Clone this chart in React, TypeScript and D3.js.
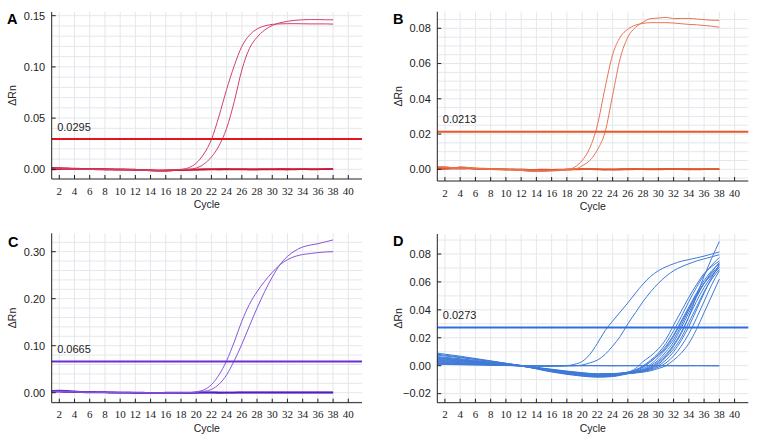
import React from 'react'
import * as d3 from 'd3'

// cycle numbers
const cycles = [1, 2, 3, 4, 5, 6, 7, 8, 9, 10, 11, 12, 13, 14, 15, 16, 17, 18, 19, 20,
  21, 22, 23, 24, 25, 26, 27, 28, 29, 30, 31, 32, 33, 34, 35, 36, 37, 38]
// sparser cycles used for the late curves of panel D
const dCycles = [1, 4, 8, 12, 16, 20, 22, 24, 26, 27, 28, 29, 30, 31, 32, 33, 34, 35, 36, 37, 38]
const xTicks = [2, 4, 6, 8, 10, 12, 14, 16, 18, 20, 22, 24, 26, 28, 30, 32, 34, 36, 38, 40]

// ---- panel A ----
const aTicks = [0, 0.05, 0.1, 0.15]
const aThreshold = 0.0295
const aCurve1 = [0.001, 0.0008, 0.0006, 0.0005, 0.0003, 0.0002, 0.0001, 0, 0, -0.0002, -0.0003, -0.0005, -0.0008, -0.001, -0.001, -0.0008, -0.0005, 0,
  0.0015, 0.006, 0.015, 0.029, 0.052, 0.078, 0.101, 0.12, 0.131, 0.137, 0.14, 0.1415, 0.142, 0.1422, 0.1422, 0.1421, 0.142, 0.142, 0.142, 0.1418]
const aCurve2 = [0.0005, 0.0006, 0.0004, 0.0002, 0, -0.0001, -0.0002, -0.0003, -0.0004, -0.0005, -0.0006, -0.0007, -0.0009, -0.0012, -0.0012, -0.001, -0.0007, -0.0003, 0,
  0.0012, 0.005, 0.012, 0.023, 0.04, 0.066, 0.097, 0.118, 0.129, 0.136, 0.1405, 0.143, 0.1445, 0.1455, 0.146, 0.1462, 0.1462, 0.146, 0.146]
const aNeg1 = [0.0015, 0.0012, 0.001, 0.0008, 0.0006, 0.0004, 0.0003, 0.0002, 0.0001, 0, -0.0001, -0.0003, -0.0006, -0.0012, -0.0015, -0.0013, -0.001, -0.0007, -0.0004,
  -0.0002, 0, 0.0001, 0.0002, 0.0002, 0.0001, 0, -0.0001, -0.0001, 0, 0.0001, 0.0002, 0.0002, 0.0001, 0, 0, 0.0001, 0.0002, 0.0002]
const aNeg2 = [0.0005, 0.0007, 0.0008, 0.0006, 0.0003, 0.0001, 0, -0.0001, -0.0003, -0.0004, -0.0005, -0.0006, -0.0008, -0.0009, -0.0011, -0.0012, -0.001, -0.0008, -0.0006,
  -0.0005, -0.0004, -0.0003, -0.0002, -0.0002, -0.0003, -0.0003, -0.0002, -0.0001, -0.0001, -0.0002, -0.0002, -0.0001, 0, 0, -0.0001, -0.0001, 0, 0]
const aNeg3 = [-0.0002, 0, 0.0002, 0.0003, 0.0002, 0, -0.0002, -0.0003, -0.0002, -0.0001, -0.0002, -0.0004, -0.0007, -0.001, -0.0012, -0.0011, -0.0009, -0.0006, -0.0003,
  -0.0001, 0, 0, -0.0001, 0, 0.0001, 0.0001, 0, 0, 0.0001, 0.0001, 0, -0.0001, -0.0001, 0, 0.0001, 0.0001, 0, 0]

// ---- panel B ----
const bTicks = [0, 0.02, 0.04, 0.06, 0.08]
const bThreshold = 0.0213
const bCurve1 = [0.0015, 0.0014, 0.0008, 0.0012, 0.001, 0.0006, 0.0004, 0.0002, 0.0001, 0, -0.0002, -0.0001, -0.0005, -0.0008, -0.0008, -0.0007, -0.0004, -0.0001,
  0.0012, 0.005, 0.012, 0.025, 0.046, 0.065, 0.075, 0.0795, 0.0818, 0.0828, 0.0832, 0.0832, 0.0832, 0.083, 0.0826, 0.0822, 0.082, 0.0816, 0.0812, 0.0806]
const bCurve2 = [0.0008, 0.001, 0.0006, 0.0004, 0.0007, 0.0004, 0.0002, 0.0001, 0, -0.0001, -0.0003, -0.0006, -0.0012, -0.0013, -0.0012, -0.001, -0.0007, -0.0004, 0,
  0.002, 0.005, 0.011, 0.021, 0.042, 0.063, 0.075, 0.0805, 0.0835, 0.0855, 0.0858, 0.0862, 0.0855, 0.0856, 0.0856, 0.0853, 0.0849, 0.0846, 0.0845]
const bNeg1 = [0.001, 0.0012, 0.0008, 0.0011, 0.0009, 0.0006, 0.0004, 0.0003, 0.0002, 0.0001, 0, -0.0002, -0.0003, -0.0002, -0.0001, -0.0002, -0.0001, 0, 0.0001,
  0.0001, 0, -0.0001, -0.0002, -0.0001, 0, 0.0001, 0.0001, 0, 0, 0.0001, 0.0002, 0.0002, 0.0001, 0.0001, 0, 0, 0, 0]
const bNeg2 = [0.0004, 0.0003, 0.0005, 0.0008, 0.0006, 0.0003, 0.0001, 0, -0.0001, -0.0002, -0.0003, -0.0004, -0.0006, -0.0007, -0.0006, -0.0005, -0.0004, -0.0002, -0.0001,
  0, 0, 0, -0.0001, -0.0002, -0.0002, -0.0001, 0, 0, -0.0001, -0.0001, 0, 0, 0, -0.0001, -0.0001, 0, 0, 0]
const bNeg3 = [0, 0.0002, 0.0004, 0.0003, 0.0004, 0.0002, 0.0001, 0, 0, -0.0001, -0.0001, 0, -0.0002, -0.0004, -0.0005, -0.0004, -0.0003, -0.0001, 0,
  0.0002, 0.0002, 0.0001, 0, 0, 0.0001, 0.0002, 0.0002, 0.0001, 0.0001, 0.0002, 0.0003, 0.0003, 0.0002, 0.0001, 0.0001, 0.0001, 0.0001, 0.0001]

// ---- panel C ----
const cTicks = [0, 0.1, 0.2, 0.3]
const cThreshold = 0.0665
const cCurve1 = [0.003, 0.0035, 0.003, 0.002, 0.0015, 0.001, 0.001, 0.0008, 0.0005, 0.0003, 0.0002, 0.0002, 0, -0.0005, -0.0005, -0.0003, -0.0002, -0.0005, 0, 0.002,
  0.006, 0.017, 0.038, 0.068, 0.108, 0.152, 0.188, 0.215, 0.237, 0.256, 0.272, 0.283, 0.29, 0.294, 0.296, 0.298, 0.2995, 0.3]
const cCurve2 = [0.002, 0.0025, 0.002, 0.0015, 0.001, 0.001, 0.0005, 0.0005, 0.0003, 0.0002, 0, 0, -0.0003, -0.0005, -0.0005, -0.0004, -0.0003, -0.0002, 0, 0.001, 0.003,
  0.007, 0.018, 0.038, 0.068, 0.103, 0.142, 0.18, 0.215, 0.246, 0.272, 0.29, 0.302, 0.31, 0.314, 0.317, 0.321, 0.325]
const cNeg1 = [0.004, 0.0045, 0.004, 0.003, 0.002, 0.0015, 0.001, 0.0008, 0.0005, 0.0003, 0.0002, 0, -0.0005, -0.001, -0.0008, -0.0005, -0.0003, -0.0008, -0.0005,
  0, 0.0005, 0.0005, 0.0003, 0.0002, 0.0003, 0.0005, 0.0005, 0.0004, 0.0003, 0.0004, 0.0005, 0.0006, 0.0005, 0.0004, 0.0004, 0.0005, 0.0005, 0.0005]
const cNeg2 = [0.002, 0.002, 0.0015, 0.001, 0.0008, 0.0005, 0.0003, 0.0002, 0, -0.0002, -0.0003, -0.0005, -0.0008, -0.0012, -0.001, -0.0008, -0.0006, -0.0005, -0.0003,
  -0.0002, -0.0002, -0.0003, -0.0004, -0.0003, -0.0002, -0.0001, 0, 0, -0.0001, -0.0002, -0.0001, 0, 0, 0.0001, 0.0001, 0, 0, 0]
const cNeg3 = [0.003, 0.003, 0.0025, 0.002, 0.0018, 0.0015, 0.0012, 0.001, 0.0008, 0.0006, 0.0004, 0.0003, 0.0002, 0, 0, 0.0002, 0.0003, 0.0002, 0.0003,
  0.0005, 0.0008, 0.0008, 0.0006, 0.0005, 0.0006, 0.0008, 0.0008, 0.0007, 0.0008, 0.0009, 0.001, 0.001, 0.0009, 0.0008, 0.0008, 0.0009, 0.001, 0.001]

// ---- panel D ----
const dTicks = [-0.02, 0, 0.02, 0.04, 0.06, 0.08]
const dThreshold = 0.0273
const dEarly1 = [0.0015, 0.0014, 0.0013, 0.0012, 0.0011, 0.001, 0.0009, 0.0008, 0.0006, 0.0004, 0.0002, 0, -0.0002, -0.0003, -0.0004, -0.0004, -0.0003, 0,
  0.001, 0.003, 0.008, 0.016, 0.025, 0.032, 0.0385, 0.045, 0.052, 0.0585, 0.064, 0.068, 0.0708, 0.073, 0.0748, 0.076, 0.0772, 0.0785, 0.08, 0.0815]
const dEarly2 = [0.001, 0.0009, 0.0008, 0.0007, 0.0006, 0.0005, 0.0004, 0.0003, 0.0002, 0.0001, 0, 0, -0.0001, -0.0002, -0.0003, -0.0003, -0.0002, -0.0001, 0,
  0.0005, 0.002, 0.004, 0.008, 0.014, 0.021, 0.03, 0.038, 0.046, 0.053, 0.059, 0.064, 0.068, 0.0708, 0.073, 0.075, 0.0765, 0.078, 0.0795]
const dFlat1 = [0.0012, 0.0011, 0.001, 0.0009, 0.0008, 0.0007, 0.0006, 0.0004, 0.0003, 0.0002, 0.0001, 0, 0, -0.0001, -0.0001, 0, 0, 0, 0,
  0, 0.0001, 0, 0, -0.0001, 0, 0, 0, 0.0001, 0, 0, 0, 0, -0.0001, 0, 0, 0, -0.0001, -0.0001]
const dFlat2 = [0.002, 0.0018, 0.0016, 0.0014, 0.0012, 0.001, 0.0008, 0.0006, 0.0004, 0.0003, 0.0001, 0, -0.0001, -0.0001, -0.0002, -0.0001, 0, 0, 0,
  0, 0, 0, 0, 0, 0, 0, 0, 0, 0, 0, 0, 0, 0, 0, 0, 0, 0, 0]
const dLate = [
  [0.009, 0.0068, 0.0035, 0, -0.003, -0.0055, -0.006, -0.0058, -0.0045, -0.002, 0.003, 0.007, 0.012, 0.019, 0.029, 0.039, 0.049, 0.058, 0.066, 0.071, 0.075],
  [0.0075, 0.0058, 0.003, 0, -0.0025, -0.005, -0.0058, -0.0056, -0.0048, -0.003, 0, 0.004, 0.009, 0.016, 0.025, 0.035, 0.046, 0.056, 0.065, 0.072, 0.0775],
  [0.0065, 0.005, 0.0025, 0.0002, -0.003, -0.006, -0.0068, -0.0065, -0.005, -0.0035, -0.001, 0.003, 0.008, 0.014, 0.022, 0.032, 0.042, 0.052, 0.061, 0.068, 0.073],
  [0.0055, 0.0042, 0.002, 0, -0.0035, -0.0065, -0.0072, -0.0068, -0.0052, -0.004, -0.002, 0.001, 0.006, 0.012, 0.019, 0.029, 0.04, 0.05, 0.059, 0.066, 0.0715],
  [0.005, 0.0038, 0.0018, -0.0002, -0.004, -0.007, -0.0078, -0.0072, -0.0055, -0.0045, -0.003, 0, 0.004, 0.01, 0.017, 0.027, 0.038, 0.049, 0.059, 0.067, 0.074],
  [0.0045, 0.0034, 0.0016, 0, -0.0038, -0.0068, -0.0075, -0.007, -0.0052, -0.0042, -0.003, -0.001, 0.003, 0.008, 0.015, 0.024, 0.035, 0.046, 0.056, 0.064, 0.0705],
  [0.004, 0.003, 0.0014, 0, -0.0042, -0.0072, -0.008, -0.0075, -0.0056, -0.0048, -0.0035, -0.002, 0.001, 0.006, 0.012, 0.02, 0.031, 0.042, 0.053, 0.062, 0.069],
  [0.0035, 0.0026, 0.0012, -0.0003, -0.0045, -0.0075, -0.0082, -0.0078, -0.0058, -0.005, -0.004, -0.0025, 0, 0.004, 0.01, 0.018, 0.028, 0.04, 0.052, 0.063, 0.0725],
  [0.006, 0.0045, 0.0022, 0, -0.0033, -0.006, -0.0066, -0.0062, -0.005, -0.0042, -0.0032, -0.0015, 0.002, 0.007, 0.014, 0.023, 0.035, 0.05, 0.064, 0.077, 0.089],
  [0.003, 0.0022, 0.001, -0.0002, -0.004, -0.0068, -0.0074, -0.007, -0.0055, -0.005, -0.0042, -0.003, -0.001, 0.002, 0.007, 0.014, 0.023, 0.034, 0.046, 0.058, 0.068],
  [0.0025, 0.0018, 0.0008, -0.0003, -0.0035, -0.0062, -0.0068, -0.0066, -0.0055, -0.0052, -0.0046, -0.0036, -0.002, 0, 0.004, 0.009, 0.016, 0.026, 0.038, 0.05, 0.062],
  [0.0082, 0.0062, 0.0032, 0.0002, -0.0028, -0.0052, -0.006, -0.0058, -0.0048, -0.0032, -0.0008, 0.003, 0.0075, 0.013, 0.021, 0.031, 0.041, 0.051, 0.059, 0.065, 0.0705],
]

type Line = { xs: number[]; ys: number[]; color: string; width: number }

type PanelProps = {
  letter: string
  letterX: number
  letterY: number
  left: number
  right: number
  top: number
  bottom: number
  zeroY: number
  refVal: number
  refY: number
  ticks: number[]
  minor: number
  threshold: number
  thrColor: string
  lines: Line[]
}

const Panel = (p: PanelProps) => {
  const x = d3.scaleLinear().domain([1, 41.8]).range([p.left, p.right])
  const y = d3.scaleLinear().domain([0, p.refVal]).range([p.zeroY, p.refY])

  const lo = y.invert(p.bottom)
  const hi = y.invert(p.top)
  const minorVals = d3.range(Math.ceil(lo / p.minor) * p.minor, hi, p.minor)

  const line = (xs: number[]) =>
    d3.line<number>()
      .x((_, i) => x(xs[i]))
      .y((d) => y(d))
      .curve(d3.curveMonotoneX)

  const ty = y(p.threshold)
  const fmt = d3.format('.2f')

  return (
    <g>
      {/* grid */}
      {minorVals.map((v, i) => (
        <line key={'h' + i} x1={p.left} x2={p.right} y1={y(v)} y2={y(v)} stroke="#e4e7eb" strokeWidth={1} />
      ))}
      {xTicks.map((c) => (
        <line key={'v' + c} x1={x(c)} x2={x(c)} y1={p.top} y2={p.bottom} stroke="#e4e7eb" strokeWidth={1} />
      ))}

      {p.lines.map((l, i) => (
        <path key={'l' + i} d={line(l.xs)(l.ys) || ''} fill="none" stroke={l.color} strokeWidth={l.width} />
      ))}

      <line x1={p.left} x2={p.right} y1={ty} y2={ty} stroke={p.thrColor} strokeWidth={2} />
      <text x={p.left + 5.5} y={ty - 8.5} fontSize={11} fontFamily="Liberation Sans, Arial, sans-serif" fill="#222">
        {p.threshold}
      </text>

      {/* axes */}
      <line x1={p.left} x2={p.left} y1={p.top} y2={p.bottom} stroke="#222" strokeWidth={1} />
      <line x1={p.left} x2={p.right} y1={p.bottom} y2={p.bottom} stroke="#222" strokeWidth={1} />
      {p.ticks.map((t) => (
        <g key={'yt' + t}>
          <line x1={p.left} x2={p.left + 4} y1={y(t)} y2={y(t)} stroke="#222" strokeWidth={1} />
          <text x={p.left - 6.5} y={y(t)} dy="0.35em" textAnchor="end" fontSize={11}
            fontFamily="Liberation Sans, Arial, sans-serif" fill="#222">{fmt(t)}</text>
        </g>
      ))}
      {xTicks.map((c) => (
        <g key={'xt' + c}>
          <line x1={x(c)} x2={x(c)} y1={p.bottom} y2={p.bottom - 4} stroke="#222" strokeWidth={1} />
          <text x={x(c)} y={p.bottom + 15.5} textAnchor="middle" fontSize={11}
            fontFamily="Liberation Serif, Times New Roman, serif" fill="#222">{c}</text>
        </g>
      ))}
      <text x={(p.left + p.right) / 2} y={p.bottom + 29} textAnchor="middle" fontSize={10.5}
        fontFamily="Liberation Sans, Arial, sans-serif" fill="#222">Cycle</text>
      <text transform={`translate(${p.left - 39},${(p.top + p.bottom) / 2}) rotate(-90)`} textAnchor="middle"
        dy="0.35em" fontSize={10.5} fontFamily="Liberation Sans, Arial, sans-serif" fill="#222">ΔRn</text>
      <text x={p.letterX} y={p.letterY} fontSize={14.5} fontWeight="bold"
        fontFamily="Liberation Sans, Arial, sans-serif" fill="#000">{p.letter}</text>
    </g>
  )
}

const App = () => {
  const aCol = '#d2406a'
  const aNegCol = '#cc1836'
  const bCol = '#ea7452'
  const bNegCol = '#e0582c'
  const cCol = '#8c54da'
  const cNegCol = '#5420c0'
  const dCol = '#3f7ad8'

  return (
    <svg width={761} height={441} style={{ position: 'absolute', left: 0, top: 0, background: '#fff' }}>
      <Panel letter="A" letterX={7} letterY={23.5}
        left={51.7} right={362} top={12} bottom={179} zeroY={169.3} refVal={0.15} refY={15.7}
        ticks={aTicks} minor={0.01} threshold={aThreshold} thrColor="#e2141e"
        lines={[
          { xs: cycles, ys: aNeg1, color: aNegCol, width: 1.5 },
          { xs: cycles, ys: aNeg2, color: aNegCol, width: 1.5 },
          { xs: cycles, ys: aNeg3, color: aNegCol, width: 1.5 },
          { xs: cycles, ys: aCurve1, color: aCol, width: 1 },
          { xs: cycles, ys: aCurve2, color: aCol, width: 1 },
        ]} />
      <Panel letter="B" letterX={393} letterY={23.5}
        left={437.3} right={748.3} top={11.7} bottom={181} zeroY={169.3} refVal={0.08} refY={28.3}
        ticks={bTicks} minor={0.005} threshold={bThreshold} thrColor="#e8582a"
        lines={[
          { xs: cycles, ys: bNeg1, color: bNegCol, width: 1.5 },
          { xs: cycles, ys: bNeg2, color: bNegCol, width: 1.5 },
          { xs: cycles, ys: bNeg3, color: bNegCol, width: 1.5 },
          { xs: cycles, ys: bCurve1, color: bCol, width: 1 },
          { xs: cycles, ys: bCurve2, color: bCol, width: 1 },
        ]} />
      <Panel letter="C" letterX={8} letterY={246.5}
        left={51.7} right={362} top={233.3} bottom={402.7} zeroY={392.7} refVal={0.3} refY={251.7}
        ticks={cTicks} minor={0.02} threshold={cThreshold} thrColor="#6a2ed2"
        lines={[
          { xs: cycles, ys: cNeg1, color: cNegCol, width: 1.5 },
          { xs: cycles, ys: cNeg2, color: cNegCol, width: 1.5 },
          { xs: cycles, ys: cNeg3, color: cNegCol, width: 1.5 },
          { xs: cycles, ys: cCurve1, color: cCol, width: 1 },
          { xs: cycles, ys: cCurve2, color: cCol, width: 1 },
        ]} />
      <Panel letter="D" letterX={393} letterY={245.5}
        left={437.3} right={748.3} top={234} bottom={402.7} zeroY={365.7} refVal={0.08} refY={254}
        ticks={dTicks} minor={0.01} threshold={dThreshold} thrColor="#2f6ee0"
        lines={[
          { xs: cycles, ys: dFlat1, color: dCol, width: 1 },
          { xs: cycles, ys: dFlat2, color: dCol, width: 1 },
          { xs: cycles, ys: dEarly1, color: dCol, width: 1 },
          { xs: cycles, ys: dEarly2, color: dCol, width: 1 },
          ...dLate.map((ys) => ({ xs: dCycles, ys, color: dCol, width: 1 })),
        ]} />
    </svg>
  )
}

export default App
